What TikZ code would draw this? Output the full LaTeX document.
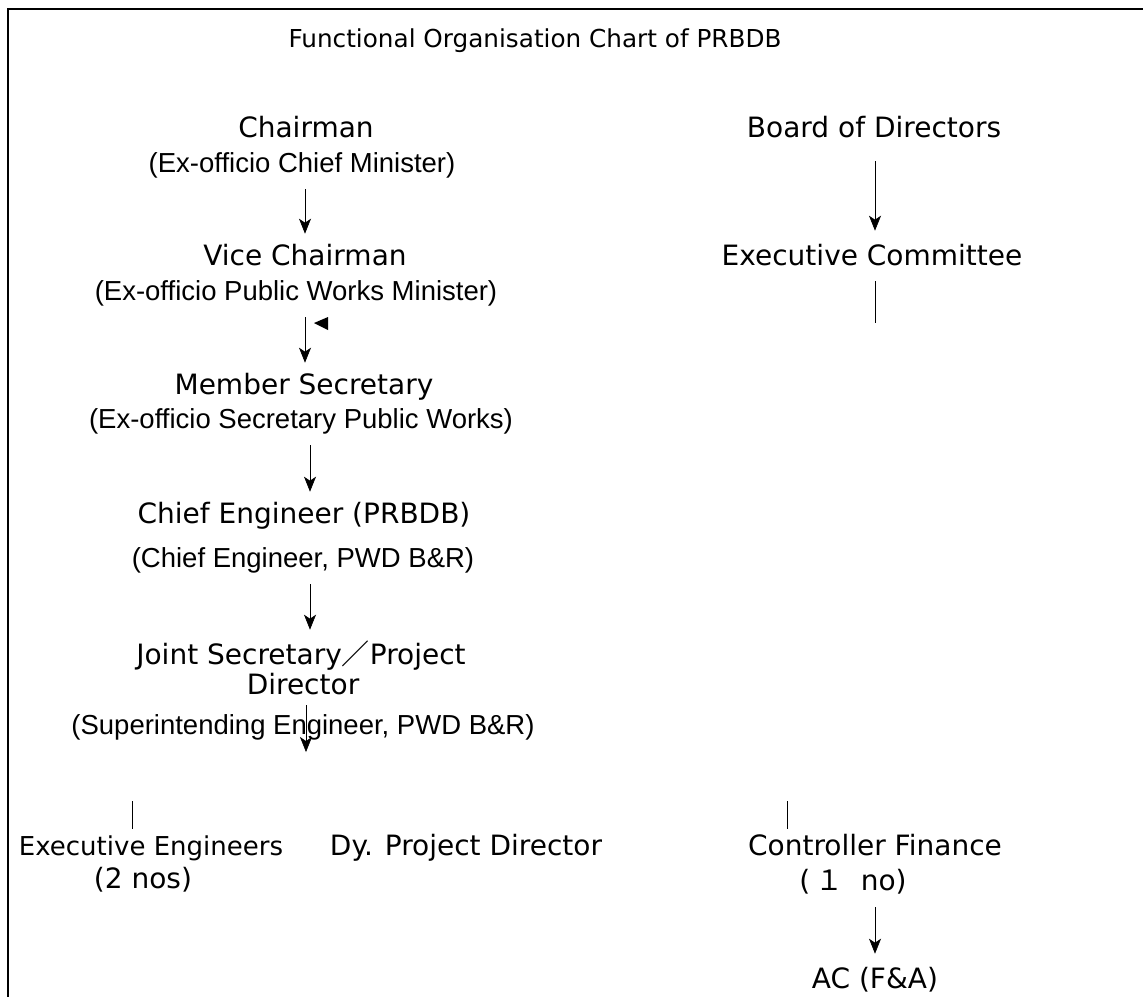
\documentclass[tikz,border=0pt]{standalone}
\usepackage{fontspec}
\setmainfont{DejaVu Sans}
\newfontfamily\subfont{Liberation Sans}
\newfontfamily\cjk{Noto Sans CJK JP}
\usetikzlibrary{arrows.meta,calc}

\begin{document}
\begin{tikzpicture}[x=1pt,y=-1pt,>={Stealth[length=15pt,width=12pt,inset=4pt]},
                    semithick]

  \tikzstyle{post}=[inner sep=0pt,text height=21pt,text depth=7pt,align=center,
                    font=\fontsize{28}{30}\selectfont]
  \tikzstyle{sub}=[post,font=\subfont\fontsize{27.5}{30}\selectfont]
  \tikzstyle{link}=[->,shorten <=10pt,shorten >=10pt]

  \useasboundingbox (0,0) rectangle (1143,997);
  \draw[line width=2pt] (1143,9) -- (8,9) -- (8,997);

  \node[post,font=\fontsize{24.7}{30}\selectfont] (title) at (535,40) {Functional Organisation Chart of PRBDB};

  \node[post] (chair)     at (306,130) {Chairman};
  \node[sub]  (chairsub)  at (302,165) {(Ex-officio Chief Minister)};
  \node[post] (vice)      at (305,258) {Vice Chairman};
  \node[sub]  (vicesub)   at (296,293) {(Ex-officio Public Works Minister)};
  \node[post] (member)    at (304,387) {Member Secretary};
  \node[sub]  (membersub) at (301,421) {(Ex-officio Secretary Public Works)};
  \node[post] (chief)     at (304,516) {Chief Engineer (PRBDB)};
  \node[sub]  (chiefsub)  at (303,560) {(Chief Engineer, PWD B\&R)};
  \node[post] (jointA)    at (301,657) {Joint Secretary{\cjk ／}Project};
  \node[post] (jointB)    at (303,687) {Director};
  \node[sub]  (supsub)    at (303,727) {(Superintending Engineer, PWD B\&R)};

  \node[post,font=\fontsize{26}{30}\selectfont] (exeng) at (151,848) {Executive Engineers};
  \node[post] (exengsub)  at (143,881) {(2 nos)};
  \node[post] (dypd)      at (466,848) {Dy. Project Director};
  \node[post] (ctrl)      at (875,848) {Controller Finance};
  \node[post] (ctrlsub)   at (853,883) {(\,{\cjk １}\ \ no)};
  \node[post] (ac)        at (875,981) {AC (F\&A)};

  \node[post] (board)     at (874,130) {Board of Directors};
  \node[post] (exec)      at (872,258) {Executive Committee};

  \coordinate (jointend) at (306,752);
  \coordinate (execend)  at (875,323);
  \coordinate (tickA)    at (132,801);
  \coordinate (tickB)    at (787,801);

  \draw[link] (chairsub.south -| vice) -- (vice.north);
  \draw[link] (vicesub.south -| vice) -- (member.north -| vice);
  \draw[link] ($(membersub.south)+(9,0)$) -- ($(chief.north)+(6,0)$);
  \draw[link,shorten >=13pt] ($(chiefsub.south)+(7,0)$) -- ($(jointA.north)+(9,0)$);
  \draw[link,shorten <=4pt,shorten >=0pt] (jointB.south -| jointend) -- (jointend);
  \draw[link,shorten <=17pt,shorten >=13pt] (board.south -| execend) -- (exec.north -| execend);
  \draw[-,shorten <=9pt] (exec.south -| execend) -- (execend);
  \draw[link,shorten >=13pt] (ctrlsub.south -| ac) -- (ac.north);

  \draw[shorten >=5pt] (tickA) -- (tickA |- exeng.north);
  \draw[shorten >=5pt] (tickB) -- (tickB |- ctrl.north);

  % stray arrow tip beside the vice chairman link
  \fill (328,317) -- (314,323) -- (328,330) -- cycle;
\end{tikzpicture}
\end{document}
